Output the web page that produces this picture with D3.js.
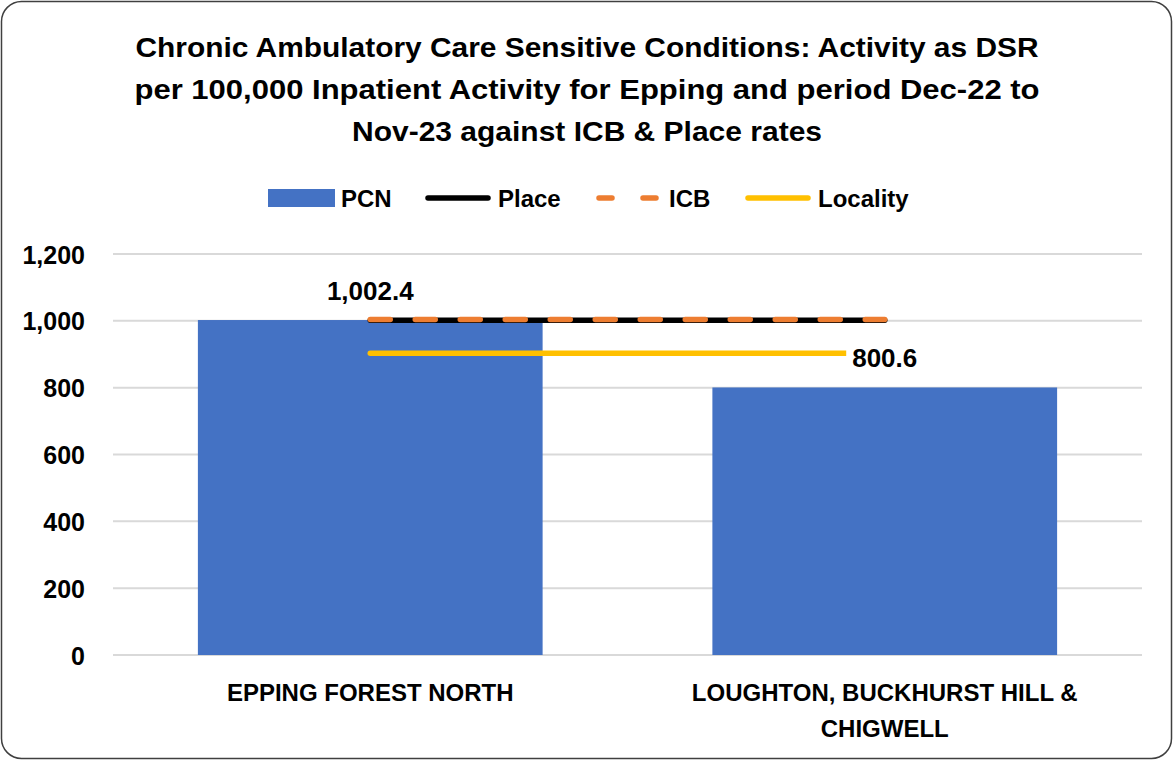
<!DOCTYPE html>
<html>
<head>
<meta charset="utf-8">
<script src="https://cdn.jsdelivr.net/npm/d3@7"></script>
<style>
  body { margin: 0; background: #fff; }
  svg text { font-family: "Liberation Sans", Arial, sans-serif; font-weight: bold; fill: #000; }
</style>
</head>
<body>
<script>
// chart values
var categories = ["EPPING FOREST NORTH", "LOUGHTON, BUCKHURST HILL & CHIGWELL"];
var pcnValues = [1002.4, 800.6];
var placeValue = 1001.5;
var icbValue = 1004;
var localityValue = 903;
var yTicks = [0, 200, 400, 600, 800, 1000, 1200];
var titleLines = [
  "Chronic Ambulatory Care Sensitive Conditions: Activity as DSR",
  "per 100,000 Inpatient Activity for Epping and period Dec-22 to",
  "Nov-23 against ICB & Place rates"
];
var categoryLines = [["EPPING FOREST NORTH"], ["LOUGHTON, BUCKHURST HILL &", "CHIGWELL"]];

const width = 1173, height = 760;
const svg = d3.select("body").append("svg").attr("width", width).attr("height", height);

// outer border
svg.append("rect")
  .attr("x", 1.5).attr("y", 1.5).attr("width", width - 3).attr("height", height - 3)
  .attr("rx", 20).attr("ry", 20)
  .attr("fill", "#fff").attr("stroke", "#404040").attr("stroke-width", 1.5);

// title
const titleLen = [903, 905, 470];
svg.append("g").selectAll("text").data(titleLines).join("text")
  .attr("x", 587).attr("y", (d, i) => 57 + i * 42)
  .attr("text-anchor", "middle")
  .attr("font-size", 27)
  .attr("textLength", (d, i) => titleLen[i])
  .attr("lengthAdjust", "spacingAndGlyphs")
  .text(d => d);

const x = d3.scaleBand().domain(categories).range([113, 1142]).paddingInner(0.33).paddingOuter(0.165);
const y = d3.scaleLinear().domain([0, 1200]).range([655, 254]);

// gridlines
svg.append("g").selectAll("line").data(yTicks).join("line")
  .attr("x1", 113).attr("x2", 1142)
  .attr("y1", d => y(d)).attr("y2", d => y(d))
  .attr("stroke", "#d9d9d9").attr("stroke-width", 2);

// y axis labels
const yAxis = svg.append("g").attr("transform", "translate(85,0)")
  .call(d3.axisLeft(y).tickValues(yTicks).tickSize(0).tickPadding(0).tickFormat(d3.format(",")));
yAxis.select(".domain").remove();
yAxis.attr("font-family", null).attr("font-size", null);
yAxis.selectAll("text").attr("font-size", 25).attr("dy", "0.36em");

// bars
svg.append("g").selectAll("rect").data(pcnValues).join("rect")
  .attr("x", (d, i) => x(categories[i]))
  .attr("width", x.bandwidth())
  .attr("y", d => y(d))
  .attr("height", d => y(0) - y(d))
  .attr("fill", "#4472c4");

// reference lines from first to last category centre
const cx = c => x(c) + x.bandwidth() / 2;
const refLine = (v, color, dash) => svg.append("line")
  .attr("x1", cx(categories[0])).attr("x2", cx(categories[categories.length - 1]))
  .attr("y1", y(v)).attr("y2", y(v))
  .attr("stroke", color).attr("stroke-width", 5.5).attr("stroke-linecap", "round")
  .attr("stroke-dasharray", dash);
refLine(localityValue, "#ffc000", null);
refLine(placeValue, "#000000", null);
refLine(icbValue, "#ed7d31", "20 25");

// data labels with white box behind
const labels = svg.append("g").selectAll("g").data(pcnValues).join("g");
const labelText = labels.append("text")
  .attr("x", (d, i) => cx(categories[i]))
  .attr("y", d => y(d) - 20)
  .attr("text-anchor", "middle")
  .attr("font-size", 26)
  .text(d => d3.format(",.1f")(d));
labels.each(function () {
  const g = d3.select(this);
  const b = g.select("text").node().getBBox();
  g.insert("rect", "text")
    .attr("x", b.x - 6).attr("y", b.y - 2)
    .attr("width", b.width + 12).attr("height", b.height + 4)
    .attr("fill", "#fff");
});

// category labels
svg.append("g").selectAll("g").data(categoryLines).join("g")
  .each(function (lines, i) {
    d3.select(this).selectAll("text").data(lines).join("text")
      .attr("x", cx(categories[i]))
      .attr("y", (d, j) => 701 + j * 36)
      .attr("text-anchor", "middle")
      .attr("font-size", 24)
      .text(d => d);
  });

// legend
const legend = svg.append("g");
const legendItems = [
  { name: "PCN", type: "rect", color: "#4472c4", x: 268 },
  { name: "Place", type: "line", color: "#000", x: 425 },
  { name: "ICB", type: "dash", color: "#ed7d31", x: 596 },
  { name: "Locality", type: "line", color: "#ffc000", x: 745 }
];
legendItems.forEach(function (it) {
  if (it.type === "rect") {
    legend.append("rect").attr("x", it.x).attr("y", 189).attr("width", 67).attr("height", 18).attr("fill", it.color);
  } else {
    legend.append("line").attr("x1", it.x + 3).attr("x2", it.x + 63).attr("y1", 198).attr("y2", 198)
      .attr("stroke", it.color).attr("stroke-width", 5.5).attr("stroke-linecap", "round")
      .attr("stroke-dasharray", it.type === "dash" ? "13 31" : null);
  }
  legend.append("text").attr("x", it.x + 73).attr("y", 207).attr("font-size", 24).text(it.name);
});
</script>
</body>
</html>
